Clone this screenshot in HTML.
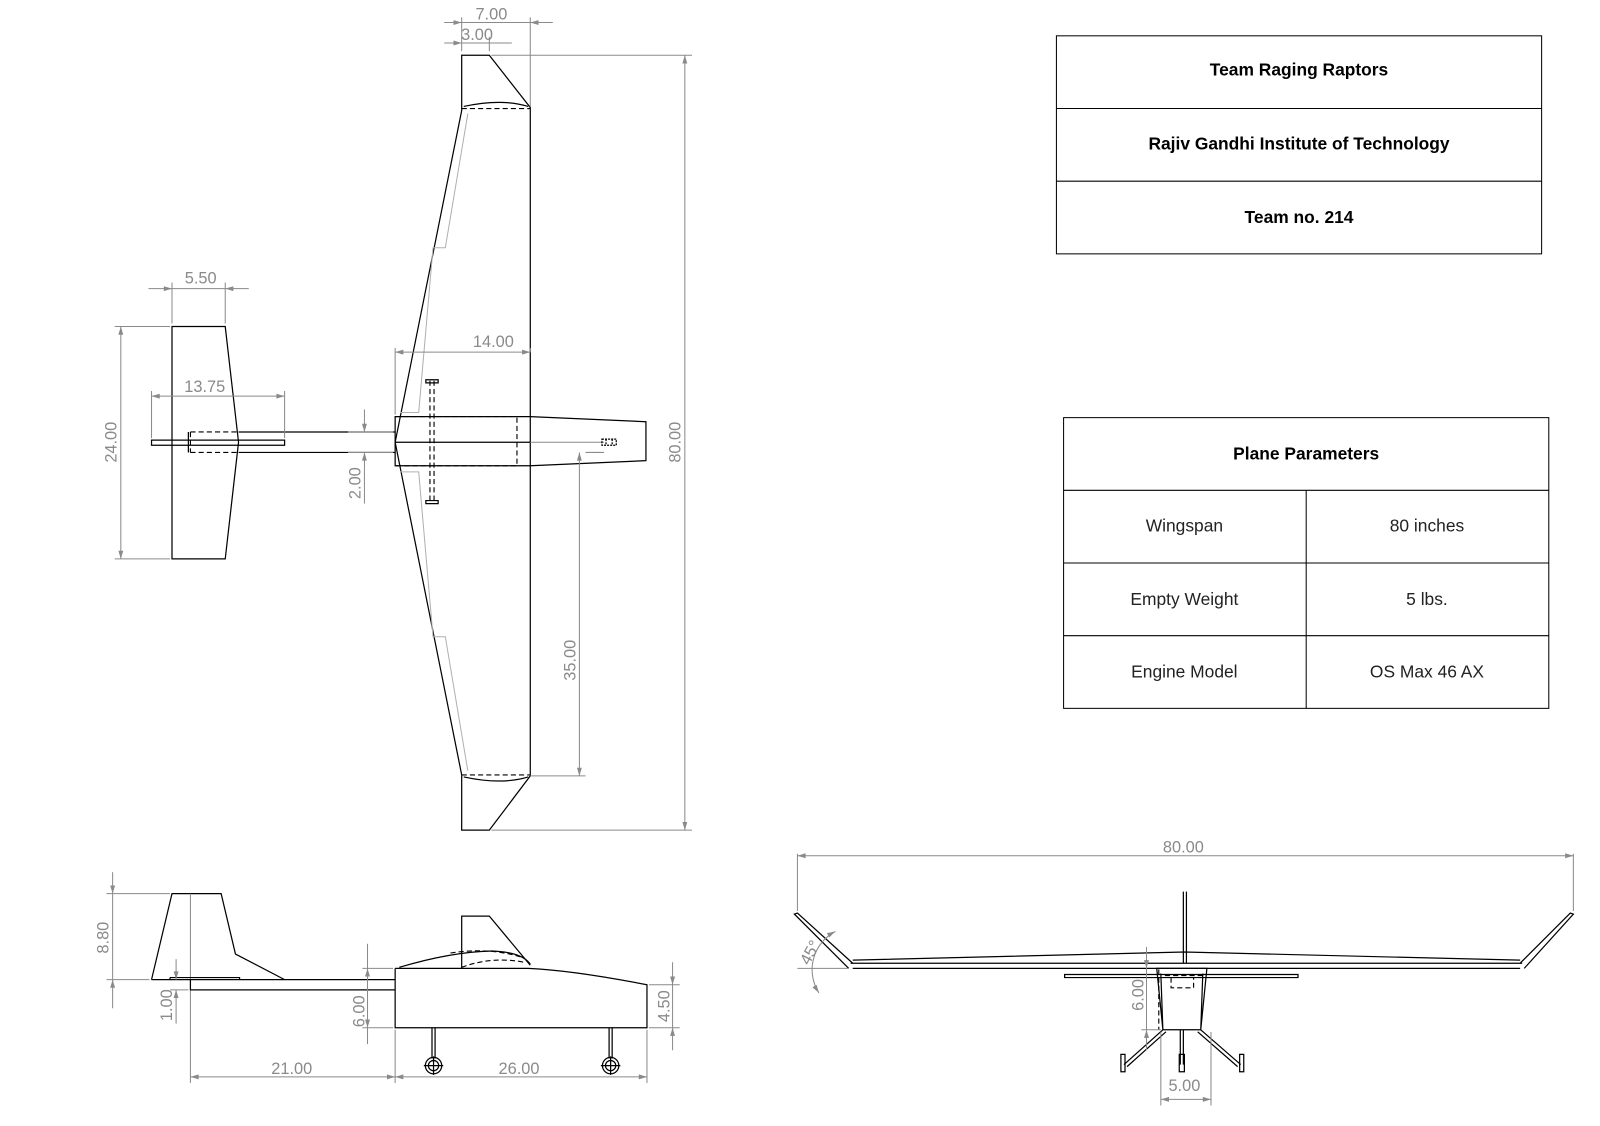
<!DOCTYPE html>
<html><head><meta charset="utf-8"><style>
html,body{margin:0;padding:0;background:#fff;}
svg{display:block}
text{font-family:"Liberation Sans",sans-serif;}
.d{fill:#8a8a8a;font-size:16px}
.k{stroke:#000;stroke-width:1.2;fill:none}
.g{stroke:#8a8a8a;stroke-width:1;fill:none}
.l{stroke:#b0b0b0;stroke-width:1;fill:none}
.ds{stroke:#000;stroke-width:1.1;fill:none;stroke-dasharray:5 3}
</style></head><body>
<svg width="1600" height="1126" viewBox="0 0 1563 1100" xmlns="http://www.w3.org/2000/svg">
<defs>
<marker id="a" viewBox="0 0 10 10" refX="10" refY="5" markerWidth="12" markerHeight="8" orient="auto-start-reverse" markerUnits="userSpaceOnUse"><path d="M0,2 L10,5 L0,8 z" fill="#8a8a8a"/></marker>
</defs>

<!-- ===== TOP VIEW ===== -->
<!-- wing -->
<path class="k" d="M451,54 L478,54 L518,105 L518,758 L478,811 L451,811 L451,757 L386,432 L451,108 Z"/>
<path class="ds" d="M451,106 L518,106 M451,757 L518,757"/>
<path class="k" d="M453,104 Q490,96 516,104 M453,759 Q490,767 516,759" stroke-width="0.8"/>
<path class="l" d="M457,111 L435,242 L423,242 L409,403 L391,403 M457,753 L435,622 L423,622 L409,461 L391,461"/>
<!-- fuselage -->
<path class="k" d="M386,407 L518,407 L631,412 L631,450 L518,455 L386,455 Z"/>
<path class="k" d="M386,432 L518,432"/>
<path class="g" d="M518,432 L590,432"/>
<path class="ds" d="M386,407 L505,407 L505,455 L386,455"/>
<path class="ds" d="M420,372 L420,492 M424,372 L424,492"/>
<path class="k" d="M416,371 h12 v3 h-12 z M416,489 h12 v3 h-12 z" stroke-width="0.8"/>
<path class="k" d="M588,429 h14 v6 h-14 z M592,429 v6 M598,429 v6" stroke-width="0.8" stroke-dasharray="2 1"/>
<!-- boom -->
<path class="k" d="M233,422 L386,422 M233,442 L386,442"/>
<!-- tail top -->
<path class="k" d="M168,319 L220,319 L233,432 L220,546 L168,546 Z"/>
<path class="k" d="M148,430 L278,430 L278,435 L148,435 Z" stroke-width="0.9"/>
<path class="ds" d="M186,422 L233,422 M186,442 L233,442 M186,422 L186,442"/>
<path class="k" d="M184,422 L184,442" stroke-width="0.6"/>

<!-- dims top view -->
<path class="g" d="M451,50 L451,17 M518,104 L518,17 M478,50 L478,36"/>
<line class="g" x1="434" y1="22" x2="451" y2="22" marker-end="url(#a)"/>
<line class="g" x1="540" y1="22" x2="518" y2="22" marker-end="url(#a)"/>
<line class="g" x1="451" y1="22" x2="518" y2="22"/>
<text class="d" x="480" y="19" text-anchor="middle">7.00</text>
<line class="g" x1="434" y1="42" x2="451" y2="42" marker-end="url(#a)"/>
<line class="g" x1="451" y1="42" x2="500" y2="42"/>
<text class="d" x="466" y="39" text-anchor="middle">3.00</text>

<path class="g" d="M480,54 L676,54 M480,811 L676,811"/>
<line class="g" x1="669" y1="54" x2="669" y2="811" marker-start="url(#a)" marker-end="url(#a)"/>
<text class="d" transform="translate(665,432) rotate(-90)" text-anchor="middle">80.00</text>

<path class="g" d="M386,340 L386,405 M518,340 L518,344"/>
<line class="g" x1="386" y1="344" x2="518" y2="344" marker-start="url(#a)" marker-end="url(#a)"/>
<text class="d" x="482" y="339" text-anchor="middle">14.00</text>

<path class="g" d="M518,758 L572,758 M590,442 L572,442"/>
<line class="g" x1="566" y1="442" x2="566" y2="758" marker-start="url(#a)" marker-end="url(#a)"/>
<text class="d" transform="translate(562,645) rotate(-90)" text-anchor="middle">35.00</text>

<path class="g" d="M340,422 L384,422 M340,442 L384,442"/>
<line class="g" x1="356" y1="400" x2="356" y2="422" marker-end="url(#a)"/>
<line class="g" x1="356" y1="492" x2="356" y2="442" marker-end="url(#a)"/>
<text class="d" transform="translate(352,472) rotate(-90)" text-anchor="middle">2.00</text>

<path class="g" d="M168,316 L168,276 M220,316 L220,276"/>
<line class="g" x1="145" y1="282" x2="168" y2="282" marker-end="url(#a)"/>
<line class="g" x1="243" y1="282" x2="220" y2="282" marker-end="url(#a)"/>
<line class="g" x1="168" y1="282" x2="220" y2="282"/>
<text class="d" x="196" y="277" text-anchor="middle">5.50</text>

<path class="g" d="M166,319 L112,319 M166,546 L112,546"/>
<line class="g" x1="118" y1="319" x2="118" y2="546" marker-start="url(#a)" marker-end="url(#a)"/>
<text class="d" transform="translate(114,432) rotate(-90)" text-anchor="middle">24.00</text>

<path class="g" d="M148,428 L148,382 M278,428 L278,382"/>
<line class="g" x1="148" y1="387" x2="278" y2="387" marker-start="url(#a)" marker-end="url(#a)"/>
<text class="d" x="200" y="383" text-anchor="middle">13.75</text>

<!-- ===== SIDE VIEW ===== -->
<path class="k" d="M148,957 L168,873 L216,873 L230,932 L278,957"/>
<path class="g" d="M186,873 L186,1058"/>
<path class="k" d="M148,957 L386,957 M186,957 L186,967 L386,967"/>
<path class="k" d="M166,955 L234,955 L234,957 M166,955 L166,957" stroke-width="0.9"/>
<path class="k" d="M386,946 L386,1004 L632,1004 L632,962 Q560,948 516,946 L386,946"/>
<path class="k" d="M390,945 Q440,930 480,929 Q510,930 518,942"/>
<path class="ds" d="M451,945 Q480,934 512,940" stroke-width="0.8"/>
<path class="ds" d="M440,931 Q480,925 512,936" stroke-width="0.8"/>
<path class="k" d="M451,946 L451,895 L478,895 L518,943"/>
<path class="k" d="M422,1004 L422,1034 M425,1004 L425,1034 M595,1004 L595,1034 M598,1004 L598,1034" stroke-width="0.8"/>
<circle cx="423.5" cy="1041" r="8" class="k"/><circle cx="423.5" cy="1041" r="5" class="k" stroke-width="0.8"/>
<path class="k" d="M414,1041 h19 M423.5,1032 v18" stroke-width="0.8"/>
<circle cx="596.5" cy="1041" r="8" class="k"/><circle cx="596.5" cy="1041" r="5" class="k" stroke-width="0.8"/>
<path class="k" d="M587,1041 h19 M596.5,1032 v18" stroke-width="0.8"/>

<path class="g" d="M104,873 L166,873 M104,957 L146,957"/>
<line class="g" x1="110" y1="852" x2="110" y2="873" marker-end="url(#a)"/>
<line class="g" x1="110" y1="985" x2="110" y2="957" marker-end="url(#a)"/>
<line class="g" x1="110" y1="873" x2="110" y2="957"/>
<text class="d" transform="translate(106,916) rotate(-90)" text-anchor="middle">8.80</text>

<path class="g" d="M166,967 L184,967"/>
<line class="g" x1="172" y1="937" x2="172" y2="957" marker-end="url(#a)"/>
<line class="g" x1="172" y1="1000" x2="172" y2="967" marker-end="url(#a)"/>
<text class="d" transform="translate(168,982) rotate(-90)" text-anchor="middle">1.00</text>

<path class="g" d="M354,946 L384,946 M354,1004 L384,1004"/>
<line class="g" x1="359" y1="946" x2="359" y2="1004" marker-start="url(#a)" marker-end="url(#a)"/>
<line class="g" x1="359" y1="922" x2="359" y2="946"/>
<line class="g" x1="359" y1="1004" x2="359" y2="1020"/>
<text class="d" transform="translate(356,988) rotate(-90)" text-anchor="middle">6.00</text>

<path class="g" d="M634,962 L664,962 M634,1004 L664,1004"/>
<line class="g" x1="657" y1="940" x2="657" y2="962" marker-end="url(#a)"/>
<line class="g" x1="657" y1="1026" x2="657" y2="1004" marker-end="url(#a)"/>
<line class="g" x1="657" y1="962" x2="657" y2="1004"/>
<text class="d" transform="translate(654,983) rotate(-90)" text-anchor="middle">4.50</text>

<path class="g" d="M386,1006 L386,1058 M632,1006 L632,1058"/>
<line class="g" x1="186" y1="1052" x2="386" y2="1052" marker-start="url(#a)" marker-end="url(#a)"/>
<line class="g" x1="386" y1="1052" x2="632" y2="1052" marker-start="url(#a)" marker-end="url(#a)"/>
<text class="d" x="285" y="1049" text-anchor="middle">21.00</text>
<text class="d" x="507" y="1049" text-anchor="middle">26.00</text>

<!-- ===== FRONT VIEW ===== -->
<path class="g" d="M779,834 L779,890 M1537,834 L1537,890"/>
<line class="g" x1="779" y1="836" x2="1537" y2="836" marker-start="url(#a)" marker-end="url(#a)"/>
<text class="d" x="1156" y="833" text-anchor="middle">80.00</text>
<path class="k" d="M831,941 L1487,941 M833,946 L1485,946"/>
<path class="k" d="M833,938 L1157,930 L1485,938" stroke-width="1"/>
<path class="k" d="M829,946 L776,893 L779,892 L833,941 M1489,946 L1537,893 L1534,892 L1485,941" stroke-width="1"/>
<path class="k" d="M1156,871 L1156,941 M1159,871 L1159,941" stroke-width="0.9"/>
<path class="k" d="M1130,946 L1179,946 L1173,1006 L1136,1006 Z M1134,951 L1136,1006 M1175,951 L1173,1006" stroke-width="1"/>
<path class="ds" d="M1132,947 L1132,1006" stroke-width="0.8"/>
<path class="k" d="M1040,952 L1268,952 L1268,955 L1040,955 Z" stroke-width="0.9"/>
<path class="ds" d="M1138,953 L1176,953 M1144,955 L1144,965 L1166,965 L1166,955" stroke-width="0.8"/>
<path class="k" d="M1136,1006 L1098,1040 M1139,1008 L1101,1042 M1173,1006 L1212,1040 M1170,1008 L1209,1042 M1153,1006 L1153,1040 M1156,1006 L1156,1040" stroke-width="0.8"/>
<path class="k" d="M1095,1030 h4 v17 h-4 z M1211,1030 h4 v17 h-4 z M1152,1030 h5 v17 h-5 z" stroke-width="0.8"/>
<line class="g" x1="1120" y1="925" x2="1120" y2="946" marker-end="url(#a)"/>
<line class="g" x1="1120" y1="1026" x2="1120" y2="1006" marker-end="url(#a)"/>
<line class="g" x1="1120" y1="946" x2="1120" y2="1006"/>
<path class="g" d="M1115,1006 L1134,1006"/>
<text class="d" transform="translate(1117,972) rotate(-90)" text-anchor="middle">6.00</text>
<path class="g" d="M1134,1008 L1134,1080 M1183,1008 L1183,1080"/>
<line class="g" x1="1134" y1="1074" x2="1183" y2="1074" marker-start="url(#a)" marker-end="url(#a)"/>
<text class="d" x="1157" y="1066" text-anchor="middle">5.00</text>
<path class="g" d="M779,946 L828,946"/>
<path class="g" d="M816,910 A42,42 0 0 0 800,970" marker-start="url(#a)" marker-end="url(#a)"/>
<text class="d" transform="translate(796,933) rotate(-62)" text-anchor="middle">45°</text>

<!-- ===== TABLES ===== -->
<g stroke="#000" stroke-width="1" fill="none">
<rect x="1032" y="35" width="474" height="213"/>
<line x1="1032" y1="106" x2="1506" y2="106"/>
<line x1="1032" y1="177" x2="1506" y2="177"/>
<rect x="1039" y="408" width="474" height="284"/>
<line x1="1039" y1="479" x2="1513" y2="479"/>
<line x1="1039" y1="550" x2="1513" y2="550"/>
<line x1="1039" y1="621" x2="1513" y2="621"/>
<line x1="1276" y1="479" x2="1276" y2="692"/>
</g>
<g font-size="17" font-weight="bold" text-anchor="middle" fill="#000">
<text x="1269" y="74">Team Raging Raptors</text>
<text x="1269" y="146">Rajiv Gandhi Institute of Technology</text>
<text x="1269" y="218">Team no. 214</text>
<text x="1276" y="449">Plane Parameters</text>
</g>
<g font-size="17" text-anchor="middle" fill="#222">
<text x="1157" y="519">Wingspan</text>
<text x="1394" y="519">80 inches</text>
<text x="1157" y="591">Empty Weight</text>
<text x="1394" y="591">5 lbs.</text>
<text x="1157" y="662">Engine Model</text>
<text x="1394" y="662">OS Max 46 AX</text>
</g>
</svg>
</body></html>
